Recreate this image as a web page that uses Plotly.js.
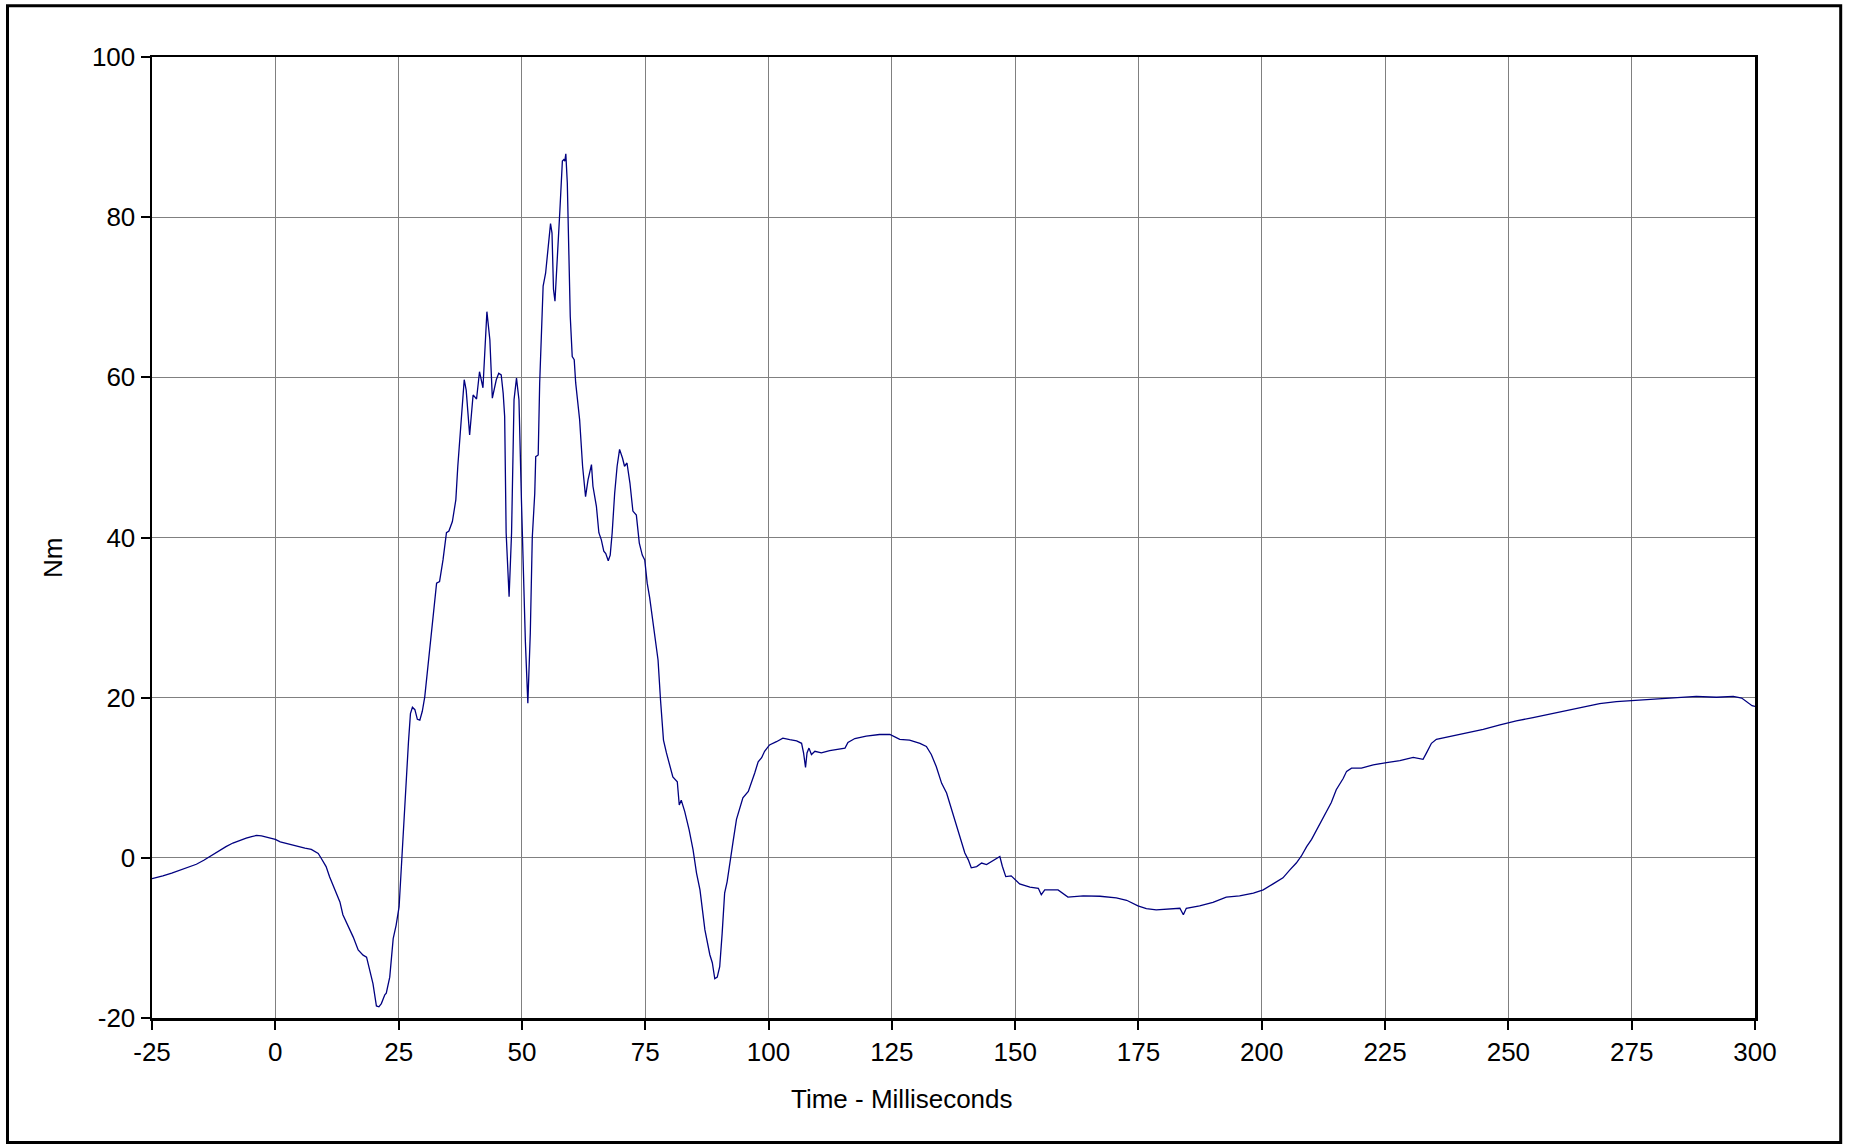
<!DOCTYPE html>
<html>
<head>
<meta charset="utf-8">
<script src="https://cdn.plot.ly/plotly-3.0.1.min.js"></script>
<style>
  html, body { margin: 0; padding: 0; background: #ffffff; }
  #chart { width: 1851px; height: 1144px; }
</style>
</head>
<body>
<div id="chart"></div>
<script>
// Time axis (milliseconds)
const timeMs = [
  -25.0, -24.0, -22.8, -21.0, -19.4, -17.5, -16.0, -14.5, -13.6, -12.3,
  -11.3, -10.0, -8.6, -7.2, -5.9, -4.8, -3.8, -2.8, -1.8, -0.8,
  0.0, 1.0, 2.2, 3.5, 4.9, 6.0, 7.3, 8.0, 8.7, 9.3,
  10.3, 11.0, 12.0, 13.1, 13.7, 14.7, 15.8, 16.8, 17.8, 18.5,
  19.1, 19.8, 20.5, 21.0, 21.5, 22.2, 22.5, 23.2, 23.9, 24.5,
  25.1, 25.6, 26.2, 26.6, 27.0, 27.4, 27.8, 28.3, 28.8, 29.3,
  29.8, 30.3, 30.8, 31.3, 31.8, 32.3, 32.7, 33.3, 34.0, 34.7,
  35.2, 35.9, 36.6, 37.0, 37.6, 38.3, 38.7, 39.4, 40.1, 40.8,
  41.4, 42.1, 42.9, 43.5, 44.0, 44.8, 45.3, 45.8, 46.2, 46.5,
  46.8, 47.4, 47.9, 48.4, 48.9, 49.4, 49.9, 50.4, 50.7, 51.2,
  51.7, 52.1, 52.6, 52.8, 53.3, 53.6, 53.9, 54.3, 54.8, 55.3,
  55.8, 56.1, 56.4, 56.7, 57.1, 57.7, 58.2, 58.5, 58.7, 58.9,
  59.2, 59.6, 59.8, 60.2, 60.6, 60.9, 61.4, 61.7, 62.3, 62.9,
  63.4, 64.1, 64.4, 65.1, 65.6, 66.1, 66.6, 67.0, 67.5, 67.9,
  68.3, 68.8, 69.3, 69.8, 70.4, 70.8, 71.3, 71.9, 72.5, 73.2,
  73.8, 74.4, 74.9, 75.4, 75.9, 76.6, 77.6, 78.1, 78.7, 79.3,
  80.0, 80.6, 81.5, 81.9, 82.3, 83.0, 83.9, 84.7, 85.4, 86.1,
  87.1, 88.1, 88.6, 89.1, 89.6, 90.1, 90.6, 91.1, 91.6, 92.1,
  92.8, 93.5, 94.2, 94.8, 95.9, 96.5, 97.2, 97.9, 98.6, 99.2,
  100.2, 101.6, 102.9, 104.3, 105.7, 106.7, 107.1, 107.5, 107.8, 108.2,
  108.7, 109.4, 110.7, 112.4, 114.4, 115.5, 116.1, 117.5, 119.8, 122.5,
  124.6, 126.6, 128.6, 130.7, 132.0, 133.0, 134.0, 135.1, 136.1, 137.1,
  138.1, 139.1, 139.8, 140.5, 141.1, 142.2, 143.2, 144.2, 145.2, 146.2,
  146.9, 147.4, 148.1, 149.2, 149.9, 150.9, 153.0, 154.7, 155.3, 156.0,
  158.7, 160.7, 163.8, 167.2, 170.5, 172.6, 174.9, 176.6, 178.6, 180.7,
  183.4, 184.1, 184.7, 187.4, 190.1, 192.8, 195.5, 198.3, 200.3, 202.3,
  204.3, 205.7, 207.0, 208.0, 209.1, 210.1, 211.1, 212.1, 213.1, 214.1,
  215.1, 216.5, 217.2, 218.2, 220.2, 222.6, 225.3, 228.0, 230.7, 232.7,
  233.4, 234.4, 235.4, 238.1, 241.5, 244.9, 248.3, 251.6, 255.0, 258.4,
  261.8, 265.2, 268.5, 271.9, 275.3, 278.7, 282.1, 285.4, 288.1, 292.2,
  295.6, 297.3, 298.3, 299.4, 300.0
];

// Torque values (Nm)
const torqueNm = [
  -2.6, -2.4, -2.25, -1.9, -1.55, -1.1, -0.8, -0.3, 0.05, 0.6,
  0.95, 1.4, 1.85, 2.2, 2.45, 2.65, 2.8, 2.75, 2.6, 2.45,
  2.3, 2.0, 1.8, 1.55, 1.35, 1.2, 1.05, 0.85, 0.55, -0.05,
  -1.1, -2.35, -3.8, -5.5, -7.1, -8.4, -9.9, -11.5, -12.15, -12.4,
  -13.8, -15.7, -18.5, -18.6, -18.2, -17.1, -16.9, -14.9, -10.1, -8.4,
  -6.1, -0.3, 6.0, 9.7, 14.5, 18.0, 18.8, 18.5, 17.3, 17.2,
  18.3, 20.1, 23.0, 26.0, 29.0, 32.2, 34.3, 34.5, 37.2, 40.6,
  40.8, 42.0, 44.7, 48.9, 53.9, 59.7, 58.4, 52.8, 57.8, 57.3,
  60.7, 58.7, 68.2, 64.7, 57.4, 59.7, 60.5, 60.3, 58.0, 55.1,
  40.6, 32.6, 40.6, 57.2, 59.9, 57.2, 44.7, 32.2, 27.0, 19.3,
  28.1, 40.0, 45.5, 50.1, 50.3, 59.3, 65.5, 71.4, 73.0, 76.0,
  79.2, 78.0, 71.0, 69.5, 74.7, 80.9, 87.0, 87.2, 87.0, 87.9,
  84.3, 74.7, 67.6, 62.6, 62.2, 59.3, 56.8, 54.7, 48.9, 45.1,
  47.2, 49.1, 46.4, 43.9, 40.6, 39.7, 38.3, 38.0, 37.1, 37.8,
  40.6, 45.5, 48.9, 51.0, 49.9, 48.9, 49.3, 46.8, 43.3, 42.8,
  39.3, 37.8, 37.2, 34.3, 32.5, 29.3, 24.7, 19.7, 14.7, 13.1,
  11.4, 10.1, 9.5, 6.6, 7.2, 5.8, 3.5, 1.0, -1.9, -4.0,
  -9.0, -12.1, -13.1, -15.1, -14.9, -13.6, -9.4, -4.4, -3.0, -0.7,
  2.0, 4.8, 6.3, 7.5, 8.3, 9.3, 10.6, 12.0, 12.5, 13.3,
  14.1, 14.5, 14.95, 14.75, 14.6, 14.3, 13.1, 11.3, 13.1, 13.7,
  12.9, 13.3, 13.1, 13.4, 13.6, 13.7, 14.4, 14.9, 15.2, 15.4,
  15.4, 14.8, 14.7, 14.3, 13.9, 12.9, 11.4, 9.3, 8.1, 6.0,
  3.9, 1.8, 0.6, -0.25, -1.25, -1.1, -0.65, -0.85, -0.45, -0.15,
  0.17, -1.05, -2.35, -2.25, -2.7, -3.25, -3.65, -3.8, -4.6, -4.0,
  -4.0, -4.9, -4.75, -4.8, -5.0, -5.3, -6.0, -6.35, -6.5, -6.4,
  -6.3, -7.1, -6.3, -6.0, -5.55, -4.9, -4.75, -4.4, -4.0, -3.25,
  -2.5, -1.5, -0.65, 0.2, 1.4, 2.3, 3.5, 4.6, 5.8, 6.9,
  8.5, 9.9, 10.8, 11.2, 11.2, 11.6, 11.9, 12.15, 12.55, 12.3,
  13.1, 14.3, 14.8, 15.15, 15.65, 16.05, 16.6, 17.1, 17.5, 17.95,
  18.4, 18.8, 19.25, 19.5, 19.65, 19.75, 19.9, 20.05, 20.15, 20.05,
  20.15, 19.95, 19.5, 19.0, 18.9
];

const xTickVals = [-25, 0, 25, 50, 75, 100, 125, 150, 175, 200, 225, 250, 275, 300];
const yTickVals = [-20, 0, 20, 40, 60, 80, 100];
const xTitle = 'Time - Milliseconds';
const yTitle = 'Nm';

const W = 1851, H = 1144;
const L = 152, R = 96, T = 57, B = 126;
const pw = W - L - R, ph = H - T - B;
function px2paperX(px) { return (px - L) / pw; }
function px2paperY(py) { return (H - B - py) / ph; }

const trace = {
  x: timeMs,
  y: torqueNm,
  type: 'scatter',
  mode: 'lines',
  line: { color: '#000080', width: 1.3 },
  hoverinfo: 'x+y'
};

const fontFam = 'Liberation Sans, Arial, sans-serif';

const layout = {
  width: W,
  height: H,
  margin: { l: L, r: R, t: T, b: B, pad: 0 },
  paper_bgcolor: '#ffffff',
  plot_bgcolor: '#ffffff',
  showlegend: false,
  font: { family: fontFam, size: 26, color: '#000000' },
  xaxis: {
    range: [-25, 300],
    tickvals: xTickVals,
    ticktext: xTickVals.map(String),
    showgrid: true,
    gridcolor: '#808080',
    gridwidth: 1,
    zeroline: false,
    showline: true,
    linecolor: '#000000',
    linewidth: 2.5,
    mirror: true,
    ticks: 'outside',
    ticklen: 9,
    tickwidth: 2,
    tickcolor: '#000000',
    tickfont: { family: fontFam, size: 26, color: '#000000' },
    fixedrange: true
  },
  yaxis: {
    range: [-20, 100],
    tickvals: yTickVals,
    ticktext: yTickVals.map(String),
    showgrid: true,
    gridcolor: '#808080',
    gridwidth: 1,
    zeroline: false,
    showline: true,
    linecolor: '#000000',
    linewidth: 2.5,
    mirror: true,
    ticks: 'outside',
    ticklen: 9,
    tickwidth: 2,
    tickcolor: '#000000',
    tickfont: { family: fontFam, size: 26, color: '#000000' },
    fixedrange: true
  },
  annotations: [
    {
      text: xTitle, xref: 'paper', yref: 'paper',
      x: px2paperX(902), y: px2paperY(1098.5),
      xanchor: 'center', yanchor: 'middle', showarrow: false,
      font: { family: fontFam, size: 26, color: '#000000' }
    },
    {
      text: yTitle, xref: 'paper', yref: 'paper',
      x: px2paperX(52.5), y: px2paperY(558.5),
      xanchor: 'center', yanchor: 'middle', showarrow: false, textangle: -90,
      font: { family: fontFam, size: 26, color: '#000000' }
    }
  ],
  shapes: [
    {
      type: 'rect', xref: 'paper', yref: 'paper',
      x0: px2paperX(7.5), x1: px2paperX(1840.7),
      y0: px2paperY(1142.5), y1: px2paperY(5.7),
      line: { color: '#000000', width: 3 },
      fillcolor: 'rgba(0,0,0,0)', layer: 'above'
    }
  ]
};

Plotly.newPlot('chart', [trace], layout, { displayModeBar: false, staticPlot: true });
</script>
</body>
</html>
